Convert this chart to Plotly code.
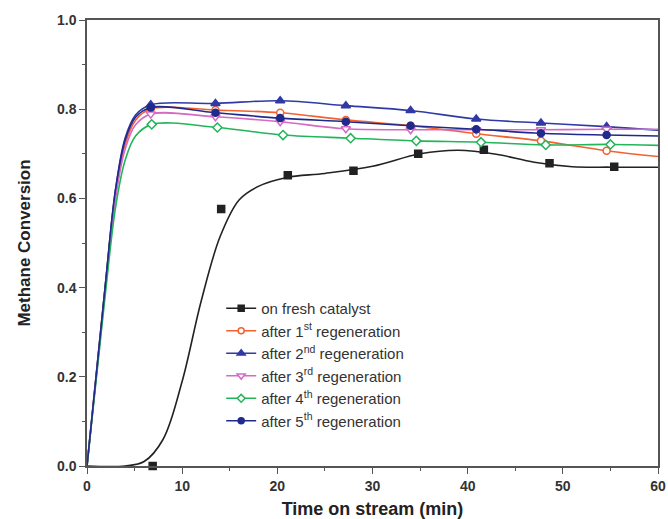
import plotly.graph_objects as go

# Sampling times (min) of the measured points
t_fresh = [6.9, 14.1, 21.1, 28.0, 34.8, 41.7, 48.6, 55.4]
t_regen = [6.7, 13.5, 20.3, 27.2, 34.0, 40.9, 47.7, 54.6]
t_4th = [6.8, 13.7, 20.6, 27.7, 34.6, 41.4, 48.2, 55.0]

# Measured methane conversion
y_fresh = [0.0, 0.576, 0.652, 0.662, 0.700, 0.709, 0.679, 0.671]
y_1st = [0.801, 0.798, 0.792, 0.776, 0.763, 0.745, 0.729, 0.707]
y_2nd = [0.810, 0.813, 0.819, 0.808, 0.797, 0.778, 0.769, 0.761]
y_3rd = [0.789, 0.783, 0.772, 0.756, 0.754, 0.754, 0.754, 0.755]
y_4th = [0.766, 0.759, 0.742, 0.735, 0.729, 0.726, 0.720, 0.721]
y_5th = [0.804, 0.792, 0.780, 0.772, 0.763, 0.755, 0.746, 0.742]

# Smoothed curve of the fresh catalyst run
fit_t_fresh = [0, 4, 6, 8, 10, 12, 14, 16, 18, 21, 25, 30, 35, 39, 43, 47, 51, 55, 60]
fit_y_fresh = [0, 0, 0.01, 0.06, 0.19, 0.37, 0.515, 0.597, 0.627, 0.647, 0.656,
               0.672, 0.700, 0.708, 0.699, 0.681, 0.671, 0.670, 0.670]

# Start-up ramp of the regenerated runs and the curve values at 60 min
rise_t = [0, 1.9, 3.0, 4.0, 5.1]
rise_1st = [0, 0.40, 0.61, 0.72, 0.775]
rise_2nd = [0, 0.40, 0.62, 0.735, 0.787]
rise_3rd = [0, 0.39, 0.60, 0.71, 0.765]
rise_4th = [0, 0.38, 0.58, 0.685, 0.74]
rise_5th = [0, 0.40, 0.62, 0.73, 0.782]
end_t = 60
end_1st, end_2nd, end_3rd, end_4th, end_5th = 0.694, 0.753, 0.755, 0.719, 0.740

names = [
    "on fresh catalyst",
    "after 1<sup>st</sup> regeneration",
    "after 2<sup>nd</sup> regeneration",
    "after 3<sup>rd</sup> regeneration",
    "after 4<sup>th</sup> regeneration",
    "after 5<sup>th</sup> regeneration",
]

BLACK = "#222222"
ORANGE = "#f2622e"
BLUE2 = "#2f3aa6"
PINK = "#d46ac4"
GREEN = "#23b55a"
NAVY = "#202a8c"

series = [
    # name, curve x, curve y, points x, points y, color, symbol, fill
    (names[0], fit_t_fresh, fit_y_fresh, t_fresh, y_fresh, BLACK, "square", BLACK),
    (names[1], rise_t + t_regen + [end_t], rise_1st + y_1st + [end_1st], t_regen, y_1st, ORANGE, "circle", "white"),
    (names[2], rise_t + t_regen + [end_t], rise_2nd + y_2nd + [end_2nd], t_regen, y_2nd, BLUE2, "triangle-up", BLUE2),
    (names[3], rise_t + t_regen + [end_t], rise_3rd + y_3rd + [end_3rd], t_regen, y_3rd, PINK, "triangle-down", "white"),
    (names[4], rise_t + t_4th + [end_t], rise_4th + y_4th + [end_4th], t_4th, y_4th, GREEN, "diamond", "white"),
    (names[5], rise_t + t_regen + [end_t], rise_5th + y_5th + [end_5th], t_regen, y_5th, NAVY, "circle", NAVY),
]

fig = go.Figure()
for name, cx, cy, px, py, col, sym, fill in series:
    size = 8 if "triangle" in sym else 7
    fig.add_trace(go.Scatter(
        x=cx, y=cy, mode="lines", line=dict(color=col, width=1.6, shape="spline", smoothing=1.0),
        showlegend=False, hoverinfo="skip", cliponaxis=True))
    fig.add_trace(go.Scatter(
        x=px, y=py, mode="markers",
        marker=dict(symbol=sym, size=size, color=fill, line=dict(color=col, width=1.5)),
        showlegend=False, cliponaxis=False))
    fig.add_trace(go.Scatter(
        x=[None], y=[None], mode="lines+markers", name=name,
        line=dict(color=col, width=1.6),
        marker=dict(symbol=sym, size=size - 1, color=fill, line=dict(color=col, width=1.5))))

FONT = "Arial, Liberation Sans, sans-serif"
axis_common = dict(
    showline=True, linecolor="#555555", linewidth=1.5, mirror=True,
    ticks="outside", ticklen=6, tickwidth=1.3, tickcolor="#555555",
    showgrid=False, zeroline=False, automargin=False,
    tickfont=dict(family=FONT, size=14, color="#333333", weight="bold"),
)

fig.update_xaxes(
    range=[0, 60], dtick=10, tick0=0,
    minor=dict(dtick=5, ticks="outside", ticklen=3, tickcolor="#555555"),
    title=dict(text="Time on stream (min)", font=dict(family=FONT, size=18, color="#222222", weight="bold"), standoff=10),
    **axis_common)
fig.update_yaxes(
    range=[0, 1.0], dtick=0.2, tick0=0, tickformat=".1f",
    minor=dict(dtick=0.1, ticks="outside", ticklen=3, tickcolor="#555555"),
    title=dict(text="Methane Conversion", font=dict(family=FONT, size=17, color="#222222", weight="bold"), standoff=22),
    **axis_common)

fig.update_layout(
    width=668, height=519,
    margin=dict(l=87, r=10, t=20, b=53),
    paper_bgcolor="white", plot_bgcolor="white",
    legend=dict(
        x=0.235, y=0.39, xanchor="left", yanchor="top",
        bgcolor="rgba(0,0,0,0)", tracegroupgap=0, itemwidth=30,
        font=dict(family=FONT, size=15, color="#333333"),
    ),
)

fig.write_html("out.html")
